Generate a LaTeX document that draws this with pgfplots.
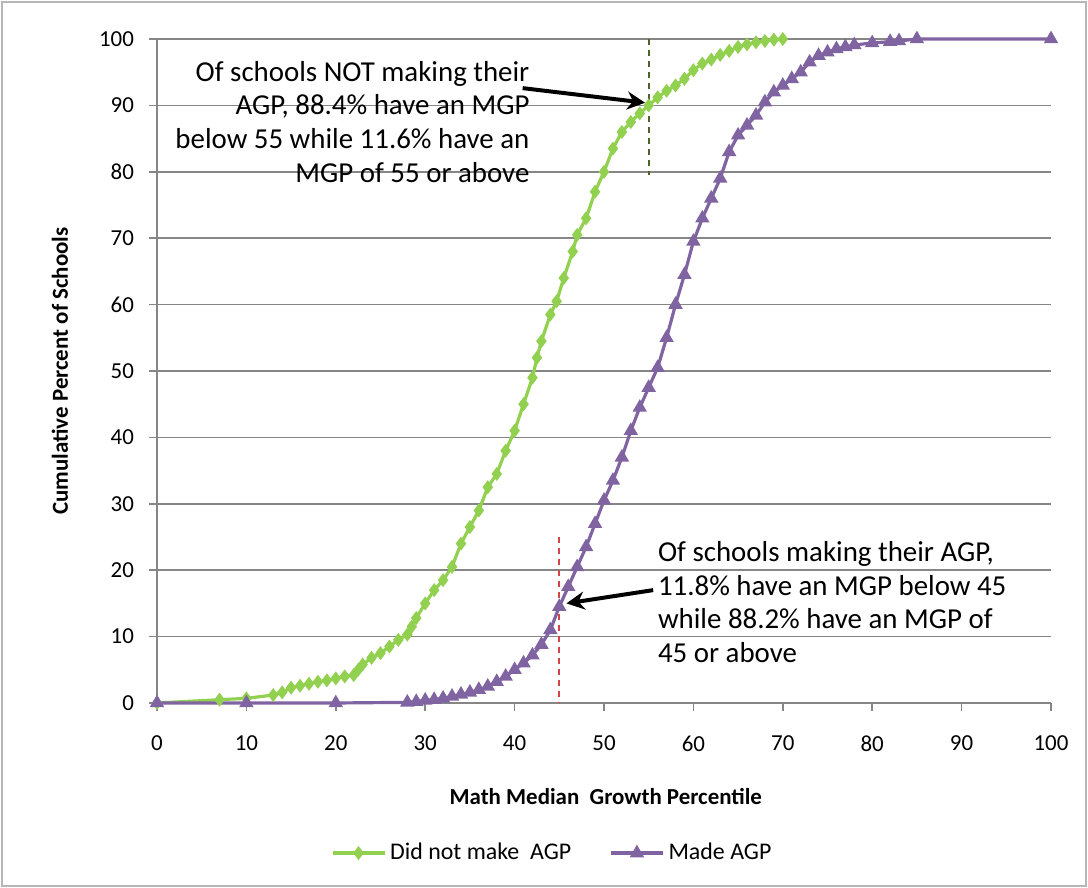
\documentclass[border=0pt]{standalone}
\usepackage{pgfplots}
\pgfplotsset{compat=1.18}
\usetikzlibrary{arrows.meta}
\usepackage{fontspec}
\setmainfont{Carlito}
\definecolor{ggreen}{RGB}{146,208,80}
\definecolor{gpurple}{RGB}{128,100,162}
\definecolor{ggrid}{RGB}{134,134,134}
\definecolor{golive}{RGB}{79,98,40}
\definecolor{dashred}{RGB}{210,70,70}
\begin{document}
\begin{tikzpicture}[x=1bp,y=1bp]
\path[use as bounding box] (-78.5bp,-92.5bp) rectangle (465.5bp,351.5bp);
\draw[ggrid!60,line width=0.6pt] (-77.5bp,-91.5bp) rectangle (464.5bp,350.5bp);
\begin{axis}[
  scale only axis,
  width=447bp, height=332bp,
  xmin=0, xmax=100, ymin=0, ymax=100,
  xtick={0,10,...,100}, ytick={0,10,...,100},
  axis x line*=bottom, axis y line*=left,
  axis line style={ggrid, line width=0.8pt},
  tick style={ggrid, line width=0.8pt},
  tick align=outside,
  major tick length=4bp,
  ymajorgrids,
  grid style={ggrid, line width=0.8pt},
  tick label style={font=\fontsize{11.5}{13}\selectfont, text=black},
  /pgf/number format/assume math mode=true,
  xticklabel style={yshift=-9bp},
  yticklabel style={xshift=-4bp},
  xlabel={\textbf{Math Median\ \ Growth Percentile}},
  ylabel={\textbf{Cumulative Percent of Schools}},
  label style={font=\fontsize{11.5}{13}\selectfont},
  xlabel style={at={(axis description cs:0.502,-0.1416)}, anchor=center},
  ylabel style={at={(axis description cs:-0.1085,0.5)}, anchor=center},
  legend columns=2,
  legend style={at={(axis description cs:0.442,-0.226)}, anchor=center, draw=none,
    font=\fontsize{12}{14}\selectfont, column sep=1bp, nodes={inner xsep=1bp}},
  legend cell align=left,
  legend image code/.code={
    \draw[mark repeat=2,mark phase=2,#1] plot coordinates {(0bp,0bp) (13bp,0bp) (26bp,0bp)};
  },
  clip=false,
]
\addplot[ggreen, line width=1.6pt, mark=diamond*, mark size=2.2pt, mark options={solid, fill=ggreen}] coordinates {
(0,0) (7,0.5) (10,0.7) (13,1.2) (14,1.6) (15,2.3) (16,2.6) (17,2.9) (18,3.2) (19,3.4)
(20,3.7) (21,4.0) (22,4.2) (22.5,5.0) (23,5.8) (24,6.8) (25,7.5) (26,8.5) (27,9.5) (28,10.3)
(28.5,11.5) (29,12.8) (30,15) (31,17) (32,18.5) (33,20.5) (34,24) (35,26.5) (36,29) (37,32.5)
(38,34.5) (39,38) (40,41) (41,45) (42,49) (42.5,52) (43,54.5) (44,58.5) (44.7,60.5) (45.5,64)
(46.5,68) (47,70.5) (48,73) (49,77) (50,80) (51,83.5) (52,86) (53,87.5) (54,88.8) (55,90)
(56,91.2) (57,92.2) (58,93) (59,94) (60,95.3) (61,96.3) (62,96.9) (63,97.6) (64,98.2) (65,98.8)
(66,99.2) (67,99.5) (68,99.7) (69,99.9) (70,100)
};
\addlegendentry{Did not make\ \ AGP\rule{17bp}{0pt}}
\addplot[gpurple, line width=1.6pt, mark=triangle*, mark size=2.6pt, mark options={solid, fill=gpurple}] coordinates {
(0,0) (10,0) (20,0) (28,0.1) (29,0.2) (30,0.4) (31,0.5) (32,0.7) (33,1) (34,1.3)
(35,1.6) (36,2) (37,2.5) (38,3.2) (39,4) (40,5) (41,6) (42,7.2) (43,8.8) (44,11)
(45,14.5) (46,17.5) (47,20.5) (48,23.5) (49,27) (50,30.5) (51,33.5) (52,37) (53,41) (54,44.5)
(55,47.5) (56,50.5) (57,55) (58,60) (59,64.5) (60,69.5) (61,73) (62,76) (63,79) (64,83)
(65,85.5) (66,87) (67,88.5) (68,90.5) (69,92) (70,93) (71,94) (72,95) (73,96.5) (74,97.5)
(75,98) (76,98.5) (77,98.8) (78,99.1) (80,99.4) (82,99.6) (83,99.7) (85,100) (100,100)
};
\addlegendentry{Made AGP}
\draw[golive, dash pattern=on 3bp off 2.5bp, line width=1pt] (axis cs:55,100) -- (axis cs:55,79.5);
\draw[dashred, dash pattern=on 3bp off 2.5bp, line width=1pt] (axis cs:45,25) -- (axis cs:45,0);
\draw[-{Stealth[length=9bp,width=9bp]}, black, line width=2pt] (axis cs:40.9,92.6) -- (axis cs:54.6,90.4);
\draw[-{Stealth[length=9bp,width=9bp]}, black, line width=2pt] (axis cs:55.5,17) -- (axis cs:45.8,15);
\node[anchor=east, align=right, font=\fontsize{14.5}{17}\selectfont, inner sep=0pt] at (axis cs:41.7,87.5)
 {Of schools NOT making their\\AGP, 88.4\% have an MGP\\below 55 while 11.6\% have an\\MGP of 55 or above};
\node[anchor=west, align=left, font=\fontsize{14.5}{17}\selectfont, inner sep=0pt] at (axis cs:56.0,15.2)
 {Of schools making their AGP,\\11.8\% have an MGP below 45\\while 88.2\% have an MGP of\\45 or above};
\end{axis}
\end{tikzpicture}
\end{document}
